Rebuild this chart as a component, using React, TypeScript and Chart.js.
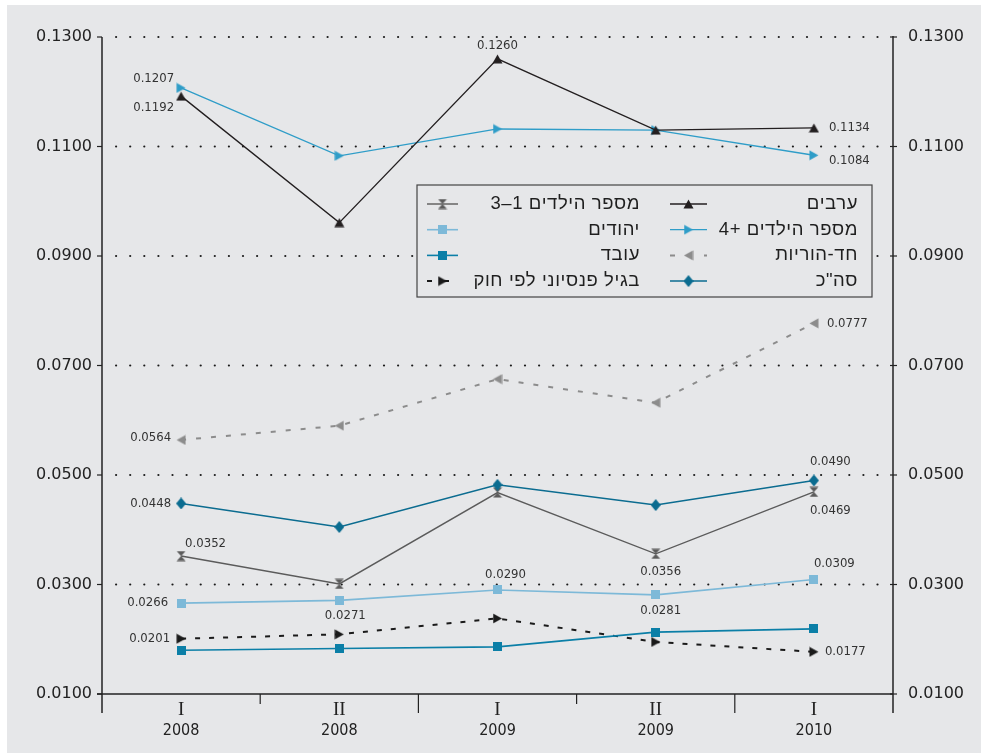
import React, { useEffect, useRef } from 'react';
import { Chart, registerables } from 'chart.js';

Chart.register(...registerables);

// ---------- data ----------
const quarters = ['I', 'II', 'I', 'II', 'I'];
const years = ['2008', '2008', '2009', '2009', '2010'];
const categories = quarters.map((q, i) => `${q} ${years[i]}`);

const arabs = [0.1192, 0.0961, 0.126, 0.113, 0.1134];
const kids4 = [0.1207, 0.1083, 0.1132, 0.113, 0.1084];
const singleParent = [0.0564, 0.059, 0.0675, 0.0632, 0.0777];
const total = [0.0448, 0.0405, 0.0482, 0.0445, 0.049];
const kids13 = [0.0352, 0.0301, 0.0468, 0.0356, 0.0469];
const jews = [0.0266, 0.0271, 0.029, 0.0281, 0.0309];
const employed = [0.018, 0.0183, 0.0186, 0.0213, 0.0219];
const pension = [0.0201, 0.0209, 0.0238, 0.0195, 0.0177];

const seriesNames = [
  'ערבים',
  'מספר הילדים +4',
  'חד-הוריות',
  'סה"כ',
  'מספר הילדים 1–3',
  'יהודים',
  'עובד',
  'בגיל פנסיוני לפי חוק',
];
const seriesValues = [arabs, kids4, singleParent, total, kids13, jews, employed, pension];

const yTickValues = [0.01, 0.03, 0.05, 0.07, 0.09, 0.11, 0.13];

// ---------- styles ----------
const seriesStyle = [
  { color: '#231f20', marker: 'up', width: 1.3, dash: [] as number[] },
  { color: '#2f9dc8', marker: 'right', width: 1.3, dash: [] },
  { color: '#8c8c8c', marker: 'left', width: 2, dash: [5, 10] },
  { color: '#0b6c90', marker: 'diamond', width: 1.5, dash: [] },
  { color: '#5b5b5b', marker: 'hourglass', width: 1.4, dash: [] },
  { color: '#7db9d8', marker: 'square', width: 1.6, dash: [] },
  { color: '#0b7fa7', marker: 'square', width: 1.6, dash: [] },
  { color: '#1a1a1a', marker: 'right', width: 2, dash: [5, 9] },
];

// data label placements: series, index, alignment, offsets
const labelSpecs = [
  { s: 0, i: 0, align: 'right', dx: -7, dy: 11 },
  { s: 1, i: 0, align: 'right', dx: -7, dy: -9 },
  { s: 0, i: 2, align: 'center', dx: 0, dy: -13 },
  { s: 0, i: 4, align: 'left', dx: 15, dy: 0 },
  { s: 1, i: 4, align: 'left', dx: 15, dy: 5 },
  { s: 2, i: 0, align: 'right', dx: -10, dy: -2 },
  { s: 2, i: 4, align: 'left', dx: 13, dy: 0 },
  { s: 3, i: 0, align: 'right', dx: -10, dy: 0 },
  { s: 3, i: 4, align: 'left', dx: -4, dy: -19 },
  { s: 4, i: 0, align: 'left', dx: 4, dy: -12 },
  { s: 4, i: 3, align: 'center', dx: 5, dy: 18 },
  { s: 4, i: 4, align: 'left', dx: -4, dy: 19 },
  { s: 5, i: 0, align: 'right', dx: -13, dy: 0 },
  { s: 5, i: 1, align: 'center', dx: 6, dy: 15 },
  { s: 5, i: 2, align: 'center', dx: 8, dy: -15 },
  { s: 5, i: 3, align: 'center', dx: 5, dy: 16 },
  { s: 5, i: 4, align: 'left', dx: 0, dy: -16 },
  { s: 7, i: 0, align: 'right', dx: -11, dy: 0 },
  { s: 7, i: 4, align: 'left', dx: 11, dy: 0 },
];

const legendRows = [
  [0, 4],
  [1, 5],
  [2, 6],
  [3, 7],
];

const BG = '#e6e7e9';
const INK = '#222222';
const condensed = '"DejaVu Sans Condensed", "Liberation Sans Narrow", "Roboto", sans-serif';

function makeMarker(kind: string, color: string): HTMLCanvasElement {
  const sizes: Record<string, [number, number]> = {
    up: [11, 10],
    right: [10, 11],
    left: [10, 11],
    diamond: [10, 12],
    hourglass: [10, 11],
    square: [9, 9],
  };
  const [w, h] = sizes[kind];
  const c = document.createElement('canvas');
  c.width = w;
  c.height = h;
  const g = c.getContext('2d')!;
  g.fillStyle = color;
  g.beginPath();
  if (kind === 'up') {
    g.moveTo(0.5, h - 0.5);
    g.lineTo(w / 2, 0.5);
    g.lineTo(w - 0.5, h - 0.5);
  } else if (kind === 'right') {
    g.moveTo(0.5, 0.5);
    g.lineTo(w - 0.5, h / 2);
    g.lineTo(0.5, h - 0.5);
  } else if (kind === 'left') {
    g.moveTo(w - 0.5, 0.5);
    g.lineTo(0.5, h / 2);
    g.lineTo(w - 0.5, h - 0.5);
  } else if (kind === 'diamond') {
    g.moveTo(w / 2, 0);
    g.lineTo(w, h / 2);
    g.lineTo(w / 2, h);
    g.lineTo(0, h / 2);
  } else if (kind === 'hourglass') {
    g.moveTo(0.5, 0.5);
    g.lineTo(w - 0.5, 0.5);
    g.lineTo(w / 2, h / 2);
    g.closePath();
    g.moveTo(w / 2, h / 2);
    g.lineTo(w - 0.5, h - 0.5);
    g.lineTo(0.5, h - 0.5);
  } else {
    g.rect(0, 0, w, h);
  }
  g.closePath();
  g.fill();
  return c;
}

export default function App() {
  const ref = useRef<HTMLCanvasElement | null>(null);

  useEffect(() => {
    document.body.style.margin = '0';
    const canvas = ref.current!;
    const markers = seriesStyle.map((s) => makeMarker(s.marker, s.color));

    const decor = {
      id: 'decor',
      beforeDraw(chart: any) {
        const { ctx, width, height } = chart;
        ctx.save();
        ctx.fillStyle = '#ffffff';
        ctx.fillRect(0, 0, width, height);
        ctx.fillStyle = BG;
        ctx.fillRect(7, 5, width - 7, height - 5);
        ctx.restore();
      },
      beforeDatasetsDraw(chart: any) {
        const { ctx, chartArea: a, scales } = chart;
        const y = scales.y;
        const x = scales.x;
        ctx.save();
        // dotted gridlines
        ctx.fillStyle = '#1a1a1a';
        yTickValues.forEach((v, k) => {
          if (k === 0) return;
          const py = y.getPixelForValue(v);
          for (let px = a.left + 14.1; px < a.right - 4; px += 14.1) {
            ctx.beginPath();
            ctx.arc(px, py, 1.1, 0, Math.PI * 2);
            ctx.fill();
          }
        });
        // axes
        ctx.strokeStyle = INK;
        ctx.lineWidth = 1.5;
        const line = (x1: number, y1: number, x2: number, y2: number) => {
          ctx.beginPath();
          ctx.moveTo(x1, y1);
          ctx.lineTo(x2, y2);
          ctx.stroke();
        };
        line(a.left, a.top, a.left, a.bottom + 19);
        line(a.right, a.top - 1, a.right, a.bottom + 19);
        line(a.left - 5, a.bottom, a.right, a.bottom);
        ctx.lineWidth = 1.2;
        yTickValues.forEach((v) => {
          const py = y.getPixelForValue(v);
          line(a.left - 5, py, a.left, py);
          line(a.right - 3, py, a.right + 4, py);
        });
        // category boundary ticks
        for (let k = 1; k < categories.length; k++) {
          const bx = (x.getPixelForValue(k - 1) + x.getPixelForValue(k)) / 2;
          const long = years[k] !== years[k - 1];
          line(bx, a.bottom, bx, a.bottom + (long ? 19 : 10));
        }
        // category labels
        ctx.fillStyle = INK;
        ctx.textAlign = 'center';
        ctx.textBaseline = 'middle';
        categories.forEach((_, i) => {
          const px = x.getPixelForValue(i);
          ctx.font = '19px "Liberation Serif", "DejaVu Serif", serif';
          ctx.fillText(quarters[i], px, a.bottom + 16);
          ctx.font = '16px ' + condensed;
          ctx.fillText(years[i], px, a.bottom + 37);
        });
        ctx.restore();
      },
      afterDatasetsDraw(chart: any) {
        const { ctx } = chart;
        ctx.save();
        // data labels
        ctx.fillStyle = '#333333';
        ctx.font = '13px ' + condensed;
        ctx.textBaseline = 'middle';
        labelSpecs.forEach((sp) => {
          const el = chart.getDatasetMeta(sp.s).data[sp.i];
          const v = seriesValues[sp.s][sp.i];
          ctx.textAlign = sp.align;
          ctx.fillText(v.toFixed(4), el.x + sp.dx, el.y + sp.dy);
        });
        // legend
        const box = { l: 417, t: 185, r: 872, b: 297 };
        ctx.fillStyle = BG;
        ctx.fillRect(box.l, box.t, box.r - box.l, box.b - box.t);
        ctx.strokeStyle = '#444444';
        ctx.lineWidth = 1.2;
        ctx.strokeRect(box.l, box.t, box.r - box.l, box.b - box.t);
        const cols = [
          { textRight: 858, s1: 670, s2: 707 },
          { textRight: 640, s1: 427, s2: 458 },
        ];
        ctx.font = '18.5px "Liberation Sans", "DejaVu Sans", sans-serif';
        try {
          (ctx as any).letterSpacing = '0.6px';
        } catch (e) {}
        ctx.direction = 'rtl';
        ctx.textAlign = 'right';
        ctx.textBaseline = 'middle';
        legendRows.forEach((row, r) => {
          const cy = box.t + 19 + r * 25.7;
          row.forEach((s, c) => {
            const col = cols[c];
            const st = seriesStyle[s];
            ctx.strokeStyle = st.color;
            ctx.lineWidth = st.width;
            ctx.setLineDash(st.dash.length ? [5, 12] : []);
            ctx.beginPath();
            ctx.moveTo(col.s1, cy);
            ctx.lineTo(col.s2, cy);
            ctx.stroke();
            ctx.setLineDash([]);
            const m = markers[s];
            const mx = (col.s1 + col.s2) / 2;
            ctx.drawImage(m, mx - m.width / 2, cy - m.height / 2);
            ctx.fillStyle = '#1f1f1f';
            ctx.fillText(seriesNames[s], col.textRight, cy);
          });
        });
        ctx.restore();
      },
    };

    const tickFont = { family: '"DejaVu Sans", "Open Sans", sans-serif', size: 16 };

    const chart = new Chart(canvas, {
      type: 'line',
      data: {
        labels: categories,
        datasets: seriesValues.map((vals, k) => ({
          label: seriesNames[k],
          data: vals,
          borderColor: seriesStyle[k].color,
          backgroundColor: seriesStyle[k].color,
          borderWidth: seriesStyle[k].width,
          borderDash: seriesStyle[k].dash,
          pointStyle: markers[k] as any,
          pointRadius: 6,
          tension: 0,
          fill: false,
          yAxisID: 'y',
        })),
      },
      options: {
        responsive: false,
        animation: false,
        devicePixelRatio: 1,
        layout: { padding: { top: 37, left: 0, right: 0, bottom: 0 } },
        plugins: { legend: { display: false }, tooltip: { enabled: false } },
        scales: {
          x: {
            type: 'category',
            offset: true,
            grid: { display: false, drawTicks: false },
            border: { display: false },
            ticks: { display: false },
            afterFit(s: any) {
              s.height = 59;
            },
          },
          y: {
            position: 'left',
            min: 0.01,
            max: 0.13,
            afterBuildTicks(s: any) {
              s.ticks = yTickValues.map((v) => ({ value: v }));
            },
            ticks: {
              padding: 10,
              color: INK,
              font: tickFont,
              callback: (v: any) => Number(v).toFixed(4),
            },
            grid: { display: false, drawTicks: false },
            border: { display: false },
            afterFit(s: any) {
              s.width = 102;
            },
          },
          y2: {
            position: 'right',
            min: 0.01,
            max: 0.13,
            afterBuildTicks(s: any) {
              s.ticks = yTickValues.map((v) => ({ value: v }));
            },
            ticks: {
              padding: 15,
              color: INK,
              font: tickFont,
              callback: (v: any) => Number(v).toFixed(4),
            },
            grid: { display: false, drawTicks: false },
            border: { display: false },
            afterFit(s: any) {
              s.width = 88;
            },
          },
        },
      },
      plugins: [decor],
    } as any);

    return () => chart.destroy();
  }, []);

  return (
    <div style={{ position: 'absolute', left: 0, top: 0, width: 981, height: 753 }}>
      <canvas ref={ref} width={981} height={753} style={{ width: 981, height: 753, display: 'block' }} />
    </div>
  );
}
